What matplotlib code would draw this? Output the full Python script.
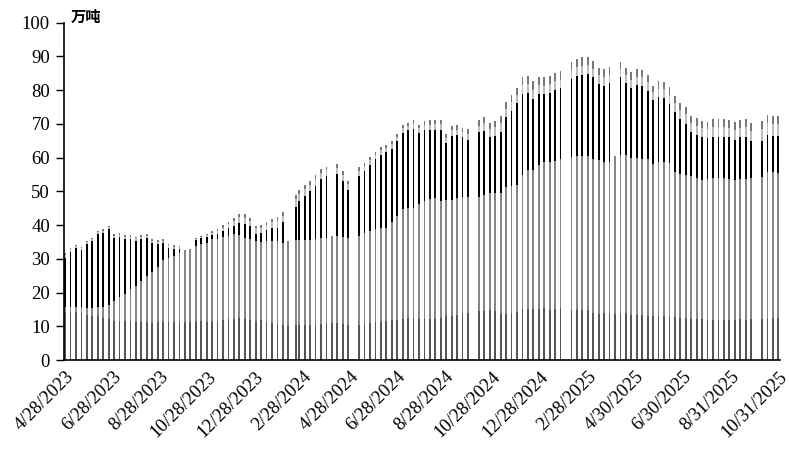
import numpy as np
import pandas as pd
import matplotlib
matplotlib.use('Agg')
from matplotlib import pyplot as plt
import matplotlib.dates as mdates

plt.rcParams['font.family'] = ['Liberation Serif', 'Noto Sans CJK SC']

nan = np.nan

# weekly dates (Fridays); one holiday week was reported on a Monday
weeks = pd.date_range('2023-04-28', '2025-10-31', freq='7D')
moved = {'2024-02-16': '2024-02-19'}

# stacked parts, bottom to top (万吨); nan = no report that week
part1 = [14.2, 14.2, 14.2, 13.9, 13.4, 13.1, 13.1, 12.6, 12.1, 11.6,
         11.6, 11.5, 11.5, 11.3, 11.3, 11.3, 11.1, 11.3, 11.3, 11.3,
         11.3, 11.1, 11.2, 11.2, 11.3, 11.6, 11.4, 11.4, 11.6, 11.8,
         12.1, 12.3, 12.4, 12.1, 12.0, 11.6, 11.8, 11.3, 11.0, 10.6,
         10.4, 10.2, 10.3, 10.3, 10.4, 10.3, 10.5, 10.7, 10.9, 11.1,
         11.1, 10.7, 10.3, nan, 10.4, 10.6, 11.0, 11.3, 11.4, 11.6,
         11.9, 12.0, 12.3, 12.5, 12.4, 12.3, 12.5, 12.3, 12.2, 12.5,
         13.0, 13.2, 13.4, 13.6, 13.9, nan, 14.6, 14.7, 14.8, 14.6,
         13.6, 13.7, 13.9, 14.3, 15.1, 15.2, 15.1, 15.2, 15.3, 15.0,
         15.2, 15.3, nan, 14.8, 14.9, 15.0, 14.9, 14.0, 13.8, 13.9,
         13.8, 13.7, 13.7, 13.9, 13.5, 13.4, 13.3, 13.2, 13.2, 13.1,
         13.0, 12.8, 12.7, 12.6, 12.4, 12.3, 12.2, 12.1, 12.0, 11.9,
         11.9, 11.8, 11.9, 12.0, 12.1, 12.0, 12.1, nan, 12.2, 12.3,
         12.4, 12.4]
part2 = [1.5, 1.5, 1.5, 1.7, 2.1, 2.4, 2.5, 3.2, 4.1, 6.0,
         7.0, 8.1, 9.5, 10.7, 12.1, 13.7, 15.0, 16.4, 18.3, 19.0,
         19.6, 20.7, 21.4, 21.8, 22.5, 22.9, 23.4, 24.4, 24.4, 24.8,
         24.7, 25.2, 24.7, 24.2, 24.0, 23.7, 23.3, 24.0, 24.3, 24.7,
         24.4, 25.1, 25.3, 25.3, 25.2, 25.3, 25.3, 25.4, 25.4, 25.7,
         25.7, 25.8, 26.0, nan, 26.4, 27.2, 27.3, 27.5, 27.7, 27.7,
         28.9, 30.7, 32.4, 32.7, 32.8, 34.1, 34.7, 35.4, 35.7, 34.7,
         34.5, 34.3, 34.5, 34.8, 34.3, nan, 33.8, 34.3, 34.6, 34.8,
         35.8, 37.5, 37.7, 37.6, 39.8, 41.1, 41.2, 42.6, 43.3, 43.6,
         43.9, 44.4, nan, 45.4, 45.6, 45.5, 45.6, 45.6, 45.5, 44.9,
         45.0, 46.8, 47.1, 46.9, 46.5, 46.6, 46.3, 46.4, 44.9, 45.7,
         45.6, 45.5, 42.9, 42.5, 42.5, 42.3, 41.9, 41.2, 41.6, 42.2,
         42.2, 42.1, 41.9, 41.4, 41.7, 41.8, 42.0, nan, 42.1, 43.5,
         43.4, 43.0]
part3 = [14.7, 16.4, 17.4, 16.9, 18.8, 19.8, 21.7, 22.0, 22.6, 18.5,
         17.8, 16.2, 14.9, 13.4, 12.4, 11.1, 8.5, 6.7, 5.0, 3.0,
         2.0, 1.2, 0, 0, 1.8, 1.7, 1.8, 1.3, 1.5, 1.7,
         2.3, 2.3, 3.5, 4.1, 3.6, 2.0, 2.5, 3.2, 4.0, 4.0,
         6.0, 0, 9.9, 11.6, 13.1, 14.4, 15.8, 17.7, 18.3, 0,
         18.5, 16.6, 14.2, nan, 17.8, 18.3, 19.6, 20.7, 21.7, 22.4,
         21.9, 22.1, 22.5, 23.0, 23.3, 20.8, 21.1, 20.6, 20.4, 21.1,
         16.7, 19.0, 18.8, 17.8, 17.0, nan, 19.1, 18.9, 16.8, 17.1,
         18.3, 20.7, 22.3, 24.2, 24.1, 23.0, 21.0, 21.2, 20.2, 20.7,
         20.9, 20.8, nan, 23.1, 23.8, 24.1, 24.3, 24.2, 22.5, 22.5,
         23.2, 0, 23.0, 21.2, 20.5, 21.5, 21.7, 20.2, 19.0, 19.1,
         19.1, 17.6, 17.8, 16.3, 15.2, 12.9, 12.7, 12.7, 12.1, 12.1,
         11.9, 12.1, 12.2, 11.9, 12.2, 12.4, 10.7, nan, 10.7, 11.0,
         10.7, 11.0]
part4 = [0.7, 0.7, 0.6, 0.6, 0.6, 0.5, 0.6, 0.6, 0.6, 0.7,
         0.7, 0.7, 0.7, 0.7, 0.7, 0.7, 0.7, 0.7, 0.7, 0.7,
         0.6, 0.5, 0, 0, 0.4, 0.4, 0.4, 0.7, 0.9, 1.0,
         1.2, 1.4, 1.7, 1.7, 1.6, 1.8, 1.6, 1.6, 1.6, 2.0,
         2.0, 0, 2.2, 2.0, 2.0, 1.9, 2.0, 1.7, 1.6, 0,
         1.7, 1.9, 1.6, nan, 1.5, 1.4, 1.4, 1.3, 1.5, 1.3,
         1.4, 1.3, 1.5, 1.3, 1.6, 1.5, 1.4, 1.5, 1.6, 1.6,
         1.5, 1.6, 1.6, 1.5, 1.8, nan, 2.0, 2.5, 2.3, 2.5,
         2.6, 2.5, 2.5, 2.4, 2.6, 2.6, 2.8, 2.6, 2.5, 2.6,
         2.6, 2.6, nan, 2.6, 2.6, 2.7, 2.7, 2.6, 2.6, 2.6,
         2.6, 0, 2.5, 2.5, 2.5, 2.5, 2.5, 2.6, 2.3, 2.5,
         2.5, 2.4, 2.7, 2.6, 2.8, 2.7, 2.7, 2.8, 2.8, 2.9,
         3.0, 3.0, 2.9, 3.0, 2.9, 2.9, 3.1, nan, 3.4, 3.4,
         3.4, 3.5]
part5 = [0.5, 0.5, 0.4, 0.5, 0.4, 0.4, 0.4, 0.4, 0.4, 0.5,
         0.5, 0.5, 0.5, 0.5, 0.5, 0.5, 0.5, 0.5, 0.5, 0.5,
         0.5, 0.3, 0, 0, 0.3, 0.2, 0.3, 0.5, 0.6, 0.7,
         0.7, 1.0, 1.1, 1.2, 1.0, 0.7, 0.9, 0.9, 0.9, 1.1,
         1.1, 0, 1.3, 1.2, 1.2, 1.2, 1.2, 1.1, 1.1, 0,
         1.1, 1.1, 1.0, nan, 1.0, 0.9, 0.9, 0.9, 0.9, 0.8,
         0.9, 0.9, 1.0, 0.9, 1.0, 1.0, 1.2, 1.3, 1.3, 1.3,
         1.3, 1.3, 1.3, 1.2, 1.4, nan, 1.6, 1.7, 1.7, 1.9,
         2.1, 2.0, 2.2, 2.1, 2.4, 2.4, 2.5, 2.4, 2.5, 2.4,
         2.4, 2.5, nan, 2.3, 2.3, 2.4, 2.2, 2.3, 2.3, 2.4,
         2.3, 0, 2.1, 2.2, 2.3, 2.3, 2.2, 2.2, 1.9, 2.2,
         2.3, 2.5, 2.2, 2.2, 2.2, 2.2, 2.2, 2.1, 2.2, 2.3,
         2.4, 2.4, 2.2, 2.4, 2.2, 2.3, 2.3, nan, 2.5, 2.5,
         2.5, 2.4]

tick_labels = ['4/28/2023', '6/28/2023', '8/28/2023', '10/28/2023',
               '12/28/2023', '2/28/2024', '4/28/2024', '6/28/2024',
               '8/28/2024', '10/28/2024', '12/28/2024', '2/28/2025',
               '4/30/2025', '6/30/2025', '8/31/2025', '10/31/2025']

colors = ['#565656', '#868686', '#000000', '#bdbdbd', '#787878']

dates = [pd.Timestamp(moved.get(d.strftime('%Y-%m-%d'), d)) for d in weeks]
x = mdates.date2num(dates)

fig = plt.figure(figsize=(7.89, 4.53), dpi=100)
ax = fig.add_axes([0.081, 0.205, 0.908, 0.745])

bottom = np.zeros(len(x))
for part, c in zip([part1, part2, part3, part4, part5], colors):
    h = np.array(part, dtype=float)
    ax.bar(x, h, width=2.3, bottom=bottom, color=c, linewidth=0)
    bottom = bottom + h

ax.set_ylim(0, 100)
ax.set_yticks(range(0, 101, 10))
ax.set_xlim(mdates.date2num(pd.Timestamp('2023-04-28')) - 1.5,
            mdates.date2num(pd.Timestamp('2025-10-31')) + 2.5)
ticks = mdates.date2num([pd.Timestamp(t) for t in tick_labels])
ax.set_xticks(ticks)
ax.set_xticklabels(tick_labels, rotation=45, ha='right', rotation_mode='anchor')

for s in ['top', 'right']:
    ax.spines[s].set_visible(False)
ax.spines['left'].set_linewidth(1.2)
ax.spines['bottom'].set_linewidth(1.2)
ax.tick_params(axis='y', length=6, width=1, labelsize=13.5, pad=4)
ax.tick_params(axis='x', length=0, labelsize=13.5, pad=6)

fig.text(0.089, 0.962, '万吨', fontsize=11, fontweight='bold',
         family=['Noto Sans CJK SC'], va='center', ha='left')

plt.savefig('out.png', dpi=100)
